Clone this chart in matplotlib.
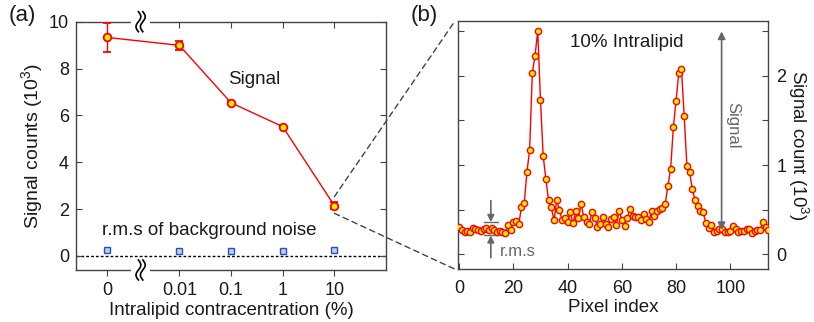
import numpy as np
import matplotlib
matplotlib.use("Agg")
import matplotlib.pyplot as plt
from matplotlib.patches import Rectangle, ConnectionPatch
from matplotlib.transforms import ScaledTranslation

plt.rcParams['font.family'] = ['Liberation Sans', 'DejaVu Sans']
plt.rcParams['mathtext.fontset'] = 'custom'
plt.rcParams['mathtext.rm'] = 'Liberation Sans'
plt.rcParams['mathtext.default'] = 'regular'

# *** data: panel (a) ***
conc_labels = ['0', '0.01', '0.1', '1', '10']
conc_pos = [-3.4, -2, -1, 0, 1]          # log10 of concentration, "0" put left of the break
signal = [9.33, 8.99, 6.54, 5.52, 2.15]
signal_err = [0.62, 0.20, 0.07, 0.05, 0.15]
noise_rms = [0.24, 0.23, 0.23, 0.21, 0.24]

# *** data: panel (b), 10% Intralipid line profile (10^3 counts) ***
profile = [0.303, 0.270, 0.243, 0.262, 0.251, 0.296, 0.281, 0.270, 0.258, 0.285,
           0.292, 0.270, 0.288, 0.266, 0.243, 0.255, 0.243, 0.240, 0.326, 0.270,
           0.356, 0.371, 0.333, 0.532, 0.569, 0.918, 1.165, 2.030, 2.228, 2.506,
           1.734, 1.105, 0.839, 0.603, 0.524, 0.378, 0.607, 0.491, 0.382, 0.401,
           0.356, 0.468, 0.345, 0.483, 0.408, 0.562, 0.412, 0.360, 0.337, 0.476,
           0.408, 0.307, 0.337, 0.412, 0.337, 0.307, 0.397, 0.412, 0.326, 0.487,
           0.378, 0.318, 0.404, 0.502, 0.431, 0.419, 0.412, 0.378, 0.449, 0.397,
           0.363, 0.487, 0.427, 0.483, 0.502, 0.513, 0.562, 0.768, 0.955, 1.423,
           1.723, 2.034, 2.075, 1.554, 0.989, 0.918, 0.730, 0.607, 0.543, 0.487,
           0.468, 0.352, 0.292, 0.330, 0.251, 0.258, 0.285, 0.277, 0.251, 0.243,
           0.262, 0.318, 0.281, 0.243, 0.262, 0.262, 0.277, 0.285, 0.240, 0.258,
           0.270, 0.270, 0.356, 0.307, 0.270]
pixel = np.arange(len(profile))

spine_col = '#444444'
txt_col = '#1a1a1a'
ann_col = '#666666'
fs = 13.5
fs_tick = 13
fs_ylab = 14

fig = plt.figure(figsize=(8.14, 3.22), dpi=100)
ax1 = fig.add_axes([0.0934, 0.1615, 0.3808, 0.7711])
ax2 = fig.add_axes([0.5630, 0.1637, 0.3808, 0.7720])

# ---------- panel (a) ----------
ax1.axhline(0, color='k', lw=1, ls=(0, (2, 1.5)), zorder=1)
ax1.errorbar(conc_pos, signal, yerr=signal_err, color='red', lw=1, capsize=3,
             capthick=1, marker='o', ms=5.5, mfc='#ffee00', mec='red', mew=1.3, zorder=3)
ax1.plot(conc_pos, noise_rms, ls='none', marker='s', ms=5, mfc='#b4d0f4',
         mec='#3050b0', mew=1, zorder=3)

ax1.set_xlim(-4, 2)
ax1.set_ylim(-0.6, 10)
ax1.set_xticks(conc_pos)
ax1.set_xticklabels(conc_labels)
ax1.set_yticks([0, 2, 4, 6, 8, 10])
ax1.tick_params(axis='x', direction='out', length=4, width=0.8, color=spine_col,
                labelsize=fs_tick, labelcolor=txt_col, pad=5)
ax1.tick_params(axis='y', direction='in', left=True, right=True, length=4, width=0.8,
                color=spine_col, labelsize=fs_tick, labelcolor=txt_col, pad=5)
top = ax1.secondary_xaxis('top')
top.set_xticks(conc_pos[1:])
top.tick_params(direction='in', length=4, width=0.8, color=spine_col, labeltop=False)
top.spines['top'].set_visible(False)
for s in ax1.spines.values():
    s.set_color(spine_col)
    s.set_linewidth(1)

ax1.set_xlabel('Intralipid contracentration (%)', fontsize=fs, color=txt_col, labelpad=2)
ax1.set_ylabel('Signal counts (10$^3$)', fontsize=fs_ylab, color=txt_col, labelpad=3)
ax1.text(-0.55, 7.55, 'Signal', fontsize=fs, color=txt_col, ha='center', va='center')
ax1.text(-3.5, 1.1, 'r.m.s of background noise', fontsize=fs, color=txt_col,
         ha='left', va='center')


def draw_break(ax, xfrac, yfrac):
    trans = fig.dpi_scale_trans + ScaledTranslation(xfrac, yfrac, ax.transAxes)
    ax.add_patch(Rectangle((-0.095, -0.03), 0.19, 0.06, transform=trans,
                           facecolor='white', edgecolor='none', clip_on=False, zorder=5))
    t = np.linspace(-1, 1, 60)
    for dx in (-0.022, 0.022):
        ax.plot(dx + 0.024 * np.sin(np.pi * t), 0.1 * t, transform=trans,
                color='k', lw=1.2, clip_on=False, zorder=6)


xb = (-2.75 - (-4)) / 6
draw_break(ax1, xb, 1.0)
draw_break(ax1, xb, 0.0)

# ---------- panel (b) ----------
ax2.plot(pixel, profile, color='red', lw=1, marker='o', ms=4.5, mfc='#ffee00',
         mec='red', mew=1, zorder=3)
ax2.set_xlim(-0.3, 114)
ax2.set_ylim(-0.17, 2.62)
ax2.set_xticks([0, 20, 40, 60, 80, 100])
ax2.set_yticks([0, 1, 2])
ax2.set_yticks([0.5, 1.5, 2.5], minor=True)
ax2.yaxis.set_label_position('right')
ax2.tick_params(axis='x', direction='in', length=4, width=0.8, color=spine_col,
                labelsize=fs_tick, labelcolor=txt_col, pad=8)
ax2.tick_params(axis='y', which='both', direction='in', left=True, right=True,
                labelleft=False, labelright=True, length=4, width=0.8,
                color=spine_col, labelsize=fs_tick, labelcolor=txt_col, pad=6)
for s in ax2.spines.values():
    s.set_color(spine_col)
    s.set_linewidth(1)
ax2.set_xlabel('Pixel index', fontsize=fs, color=txt_col, labelpad=1)
ax2.set_ylabel('Signal count (10$^3$)', fontsize=13.5, color=txt_col, rotation=270,
               labelpad=17)

ax2.text(62, 2.37, '10% Intralipid', fontsize=fs, color=txt_col, ha='center', va='center')
# signal height arrow
ax2.annotate('', xy=(96.8, 2.5), xytext=(96.8, 0.27),
             arrowprops=dict(arrowstyle='<|-|>', color=ann_col, lw=1.2,
                             mutation_scale=11, shrinkA=0, shrinkB=0))
ax2.text(101, 1.45, 'Signal', fontsize=12, color=ann_col, rotation=270,
         ha='center', va='center')
# r.m.s marker
rms_hi, rms_lo = 0.36, 0.21
ax2.plot([9.0, 14.5], [rms_hi, rms_hi], color=ann_col, lw=1)
ax2.plot([9.0, 14.5], [rms_lo, rms_lo], color=ann_col, lw=1)
ax2.annotate('', xy=(11.7, rms_hi), xytext=(11.7, 0.60),
             arrowprops=dict(arrowstyle='-|>', color=ann_col, lw=1.2,
                             mutation_scale=10, shrinkA=0, shrinkB=0))
ax2.annotate('', xy=(11.7, rms_lo), xytext=(11.7, -0.04),
             arrowprops=dict(arrowstyle='-|>', color=ann_col, lw=1.2,
                             mutation_scale=10, shrinkA=0, shrinkB=0))
ax2.text(15.0, 0.03, 'r.m.s', fontsize=12, color=ann_col, ha='left', va='center')

# zoom connector lines from the 10 % point to panel (b)
for dy, corner in ((0.38, 1.0), (-0.33, 0.0)):
    con = ConnectionPatch(xyA=(conc_pos[-1], signal[-1] + dy), coordsA=ax1.transData,
                          xyB=(-0.01, corner), coordsB=ax2.transAxes,
                          color='#444444', lw=1, ls=(0, (4, 3)))
    fig.add_artist(con)

fig.text(0.010, 0.953, '(a)', fontsize=16, color=txt_col, ha='left', va='center')
fig.text(0.505, 0.953, '(b)', fontsize=16, color=txt_col, ha='left', va='center')

fig.savefig('out.png', dpi=100)
